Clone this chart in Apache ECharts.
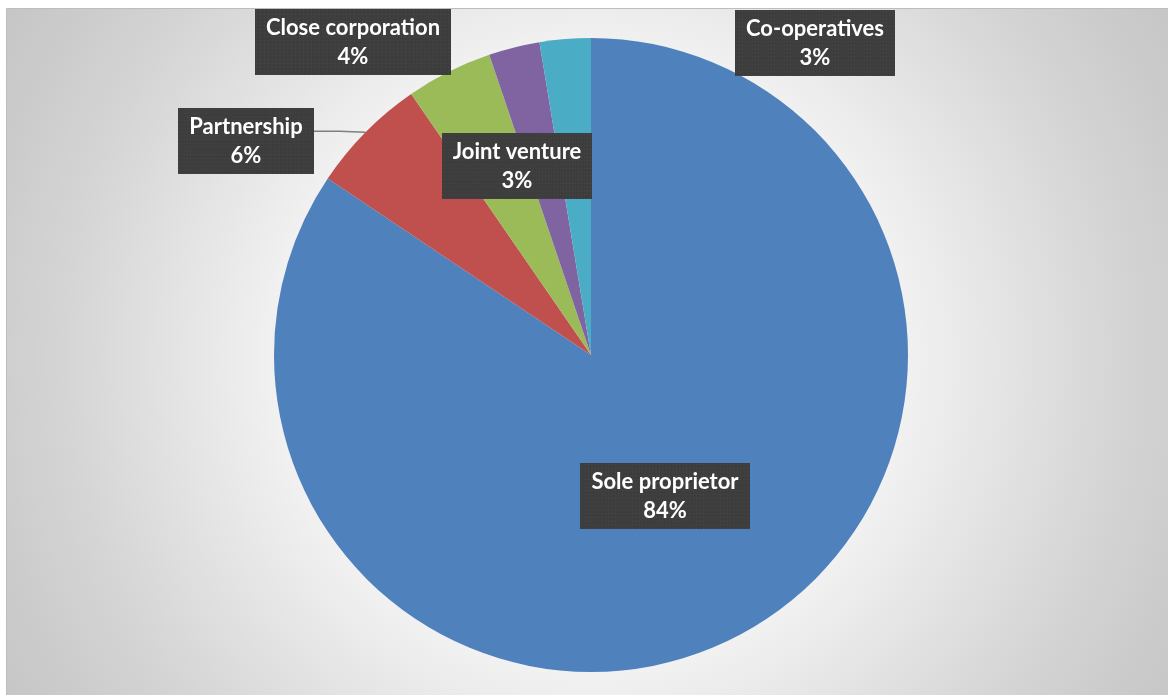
<!DOCTYPE html>
<html>
<head>
<meta charset="utf-8">
<script src="https://cdn.jsdelivr.net/npm/echarts@6/dist/echarts.min.js"></script>
<style>
html,body{margin:0;padding:0;background:#ffffff;}
#chart{width:1168px;height:695px;}
</style>
</head>
<body>
<div id="chart"></div>
<script>
// ---- data ----
const categories = ['Sole proprietor', 'Partnership', 'Close corporation', 'Joint venture', 'Co-operatives'];
const values = [84.4, 6.0, 4.4, 2.6, 2.6];
const colors = ['#4F81BD', '#C0504D', '#9BBB59', '#8064A2', '#4BACC6'];

// ---- label layout (centres of the label boxes) ----
const labelCentres = [[665, 496], [246, 141], [353, 42], [517, 166], [815, 43]];
const showLeader = [false, true, false, false, false];

const FONT_FAMILY = 'Lato, "Open Sans", sans-serif';
const FONT_SIZE = 22;
const PAD_X = 11;

// dotted dark pattern for label boxes
function makePattern() {
  const c = document.createElement('canvas');
  c.width = 200; c.height = 70;
  const g = c.getContext('2d');
  g.fillStyle = '#3d3d3d';
  g.fillRect(0, 0, c.width, c.height);
  g.fillStyle = '#4d4d4d';
  for (let y = 1; y < c.height; y += 4) {
    for (let x = 1; x < c.width; x += 4) {
      g.fillRect(x, y, 1, 1);
    }
  }
  return c;
}
const pattern = makePattern();

const measureCtx = document.createElement('canvas').getContext('2d');
function boxHalfWidth(name) {
  measureCtx.font = 'bold ' + FONT_SIZE + 'px ' + FONT_FAMILY;
  return measureCtx.measureText(name).width / 2 + PAD_X;
}

const chart = echarts.init(document.getElementById('chart'), null, {renderer: 'canvas'});

const option = {
  animation: false,
  backgroundColor: '#ffffff',
  graphic: [{
    type: 'rect',
    z: -10,
    silent: true,
    shape: {x: 6.5, y: 8.5, width: 1170, height: 700},
    style: {
      fill: {
        type: 'radial', x: 0.5, y: 0.5, r: 1.0,
        colorStops: [
          {offset: 0, color: '#fbfbfb'},
          {offset: 0.45, color: '#f1f1f1'},
          {offset: 0.6, color: '#e3e3e3'},
          {offset: 0.75, color: '#d5d5d5'},
          {offset: 0.87, color: '#cccccc'},
          {offset: 1, color: '#c4c4c4'}
        ]
      },
      stroke: '#bdbdbd',
      lineWidth: 1
    }
  }],
  series: [{
    type: 'pie',
    center: [591, 355],
    radius: [0, 317],
    startAngle: 90,
    clockwise: true,
    percentPrecision: 0,
    avoidLabelOverlap: false,
    data: categories.map((name, i) => ({
      name: name,
      value: values[i],
      itemStyle: {color: colors[i]},
      labelLine: {show: showLeader[i]}
    })),
    label: {
      show: true,
      position: 'outside',
      formatter: '{b}\n{d}%',
      color: '#ffffff',
      fontFamily: FONT_FAMILY,
      fontWeight: 'bold',
      fontSize: FONT_SIZE,
      lineHeight: 29,
      align: 'center',
      backgroundColor: {image: pattern},
      padding: [4, PAD_X, 4, PAD_X],
      shadowColor: 'rgba(0,0,0,0.45)',
      shadowBlur: 5,
      shadowOffsetX: 3,
      shadowOffsetY: 3
    },
    labelLine: {
      show: true,
      length: 10,
      length2: 10,
      lineStyle: {color: '#7f7f7f', width: 1.5}
    },
    labelLayout: function (params) {
      const i = params.dataIndex;
      const c = labelCentres[i];
      const res = {x: c[0], y: c[1], align: 'center', verticalAlign: 'middle'};
      if (showLeader[i] && params.labelLinePoints) {
        const start = params.labelLinePoints[0];
        const right = c[0] + boxHalfWidth(categories[i]);
        const y = start[1] - 1;
        res.labelLinePoints = [start, [(start[0] + right) / 2, y], [right, y]];
      }
      return res;
    },
    emphasis: {disabled: true}
  }]
};
chart.setOption(option);
</script>
</body>
</html>
